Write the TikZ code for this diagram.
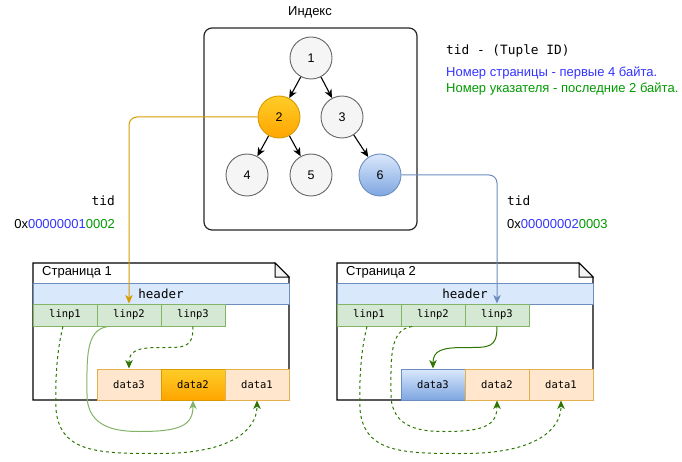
\documentclass[tikz,border=0pt]{standalone}
\usepackage{fontspec}
\setmainfont{Liberation Sans}
\setmonofont{DejaVu Sans Mono}
\usetikzlibrary{arrows.meta}
\definecolor{cgray}{HTML}{666666}
\definecolor{cfill}{HTML}{F5F5F5}
\definecolor{corange}{HTML}{D79B00}
\definecolor{corangeln}{HTML}{E3B04B}
\definecolor{cblue}{HTML}{6C8EBF}
\definecolor{cbluefill}{HTML}{DAE8FC}
\definecolor{cblue2}{HTML}{7EA6E0}
\definecolor{cgreen}{HTML}{82B366}
\definecolor{cgreenfill}{HTML}{D5E8D4}
\definecolor{cdkgreen}{HTML}{2D7600}
\definecolor{corangefill}{HTML}{FFE6CC}
\definecolor{cyel}{HTML}{FFCD28}
\definecolor{cora}{HTML}{FFA500}
\definecolor{txtblue}{HTML}{3333FF}
\definecolor{txtgreen}{HTML}{009900}
\tikzset{
  tip/.style={-{Stealth[length=8.5pt,width=7.5pt,inset=2.5pt]}},
  tree/.style={circle, draw=cgray, fill=cfill, line width=0.9pt, minimum size=42pt, inner sep=0pt, font=\fontsize{12.5}{14}\selectfont},
  hdr/.style={draw=cblue, fill=cbluefill, line width=1pt, minimum width=256pt, minimum height=21pt, inner sep=0pt, font=\fontsize{12.5}{14}\ttfamily},
  linp/.style={draw=cgreen, fill=cgreenfill, line width=1pt, minimum width=64pt, minimum height=22pt, inner sep=0pt, font=\fontsize{10.5}{12}\ttfamily},
  dbox/.style={draw=corangeln, fill=corangefill, line width=1pt, minimum width=64pt, minimum height=31pt, inner sep=0pt, font=\fontsize{10.5}{12}\ttfamily},
  txt/.style={inner sep=0pt, font=\fontsize{13}{15}\selectfont},
  mono/.style={inner sep=0pt, font=\fontsize{12.8}{14}\ttfamily},
  page/.style={draw=black, fill=white, line width=1.1pt},
  dgdash/.style={tip, draw=cdkgreen, line width=1pt, dash pattern=on 3pt off 3pt},
  dgsolid/.style={tip, draw=cdkgreen, line width=1pt},
  lgsolid/.style={tip, draw=cgreen, line width=1pt},
}
\begin{document}
\begin{tikzpicture}[x=1pt, y=-1pt]
\useasboundingbox (0,0) rectangle (682,462);
% index
\node[txt] (ttl) at (310,12) {Индекс};
\node[draw=black!85, line width=1.2pt, rounded corners=8pt, minimum width=213pt, minimum height=202pt, inner sep=0pt] (idx) at (310.5,129) {};
\node[tree] (n1) at (311,58) {1};
\node[tree, draw=corange, top color=cyel, bottom color=cora] (n2) at (279,117) {2};
\node[tree] (n3) at (342,117) {3};
\node[tree] (n4) at (247,175) {4};
\node[tree] (n5) at (311,175) {5};
\node[tree, draw=cblue, top color=cbluefill, bottom color=cblue2] (n6) at (380,175) {6};
\draw[tip, line width=1.1pt] (n1) -- (n2);
\draw[tip, line width=1.1pt] (n1) -- (n3);
\draw[tip, line width=1.1pt] (n2) -- (n4);
\draw[tip, line width=1.1pt] (n2) -- (n5);
\draw[tip, line width=1.1pt] (n3) -- (n6);
% legend
\node[mono, anchor=west] (leg) at (446,51) {tid - (Tuple ID)};
\node[txt, anchor=west, text=txtblue] (leg1) at (446,73) {Номер страницы - первые 4 байта.};
\node[txt, anchor=west, text=txtgreen] (leg2) at (446,89) {Номер указателя - последние 2 байта.};
% tids
\node[mono, anchor=east] (tidl) at (115,201) {tid};
\node[txt, anchor=east] (tidlv) at (115,224) {0x\textcolor{txtblue}{00000001}\textcolor{txtgreen}{0002}};
\node[mono, anchor=west] (tidr) at (507,201) {tid};
\node[txt, anchor=west] (tidrv) at (507,224) {0x\textcolor{txtblue}{00000002}\textcolor{txtgreen}{0003}};
% page 1
\draw[page] (33,263) -- (275,263) -- (289,277) -- (289,400) -- (33,400) -- cycle;
\draw[line width=1pt, fill=cfill] (275,263) -- (275,277) -- (289,277) -- cycle;
\node[txt, anchor=west] (p1t) at (42,272) {Страница 1};
\node[hdr] (h1) at (161,293.5) {header};
\node[linp] (l11) at (65,315) {linp1};
\node[linp] (l12) at (129,315) {linp2};
\node[linp] (l13) at (193,315) {linp3};
\node[dbox] (d13) at (129,384.5) {data3};
\node[dbox, draw=corange, top color=cyel, bottom color=cora] (d12) at (193,384.5) {data2};
\node[dbox] (d11) at (257,384.5) {data1};
% page 2
\draw[page] (337,263) -- (579,263) -- (593,277) -- (593,400) -- (337,400) -- cycle;
\draw[line width=1pt, fill=cfill] (579,263) -- (579,277) -- (593,277) -- cycle;
\node[txt, anchor=west] (p2t) at (346,272) {Страница 2};
\node[hdr] (h2) at (465,293.5) {header};
\node[linp] (l21) at (369,315) {linp1};
\node[linp] (l22) at (433,315) {linp2};
\node[linp] (l23) at (497,315) {linp3};
\node[dbox, draw=cblue, top color=cbluefill, bottom color=cblue2] (d23) at (433,384.5) {data3};
\node[dbox] (d22) at (497,384.5) {data2};
\node[dbox] (d21) at (561,384.5) {data1};
% index -> pages
\draw[tip, draw=corange, line width=1pt, rounded corners=8pt] (n2.west) -| (l12.north);
\draw[tip, draw=cblue, line width=1pt, rounded corners=8pt] (n6.east) -| (l23.north);
% page 1 pointers
\draw[dgdash] ([xshift=-2pt]l11.south) .. controls +(-6,23) and +(-1,-30) .. ++(-7,83) .. controls +(4,44) and +(-60,0) .. ++(104,44) .. controls +(70,0) and +(0,30) .. (d11.south);
\draw[lgsolid] ([xshift=-21pt]l12.south) .. controls +(-23,3) and +(0,-35) .. ++(-21,68) .. controls +(0,35) and +(-20,0) .. ++(53,37) .. controls +(40,0) and +(0,25) .. (d12.south);
\draw[dgdash] (l13.south) .. controls +(0,22) and +(25,0) .. ++(-33,21) .. controls +(-22,0) and +(0,-18) .. (d13.north);
% page 2 pointers
\draw[dgdash] ([xshift=-2pt]l21.south) .. controls +(-6,23) and +(-1,-30) .. ++(-7,83) .. controls +(4,44) and +(-60,0) .. ++(104,44) .. controls +(70,0) and +(0,30) .. (d21.south);
\draw[dgdash] ([xshift=-21pt]l22.south) .. controls +(-23,3) and +(0,-35) .. ++(-21,68) .. controls +(0,35) and +(-20,0) .. ++(53,37) .. controls +(40,0) and +(0,25) .. (d22.south);
\draw[dgsolid] (l23.south) .. controls +(0,22) and +(25,0) .. ++(-33,21) .. controls +(-22,0) and +(0,-18) .. (d23.north);
\end{tikzpicture}
\end{document}
